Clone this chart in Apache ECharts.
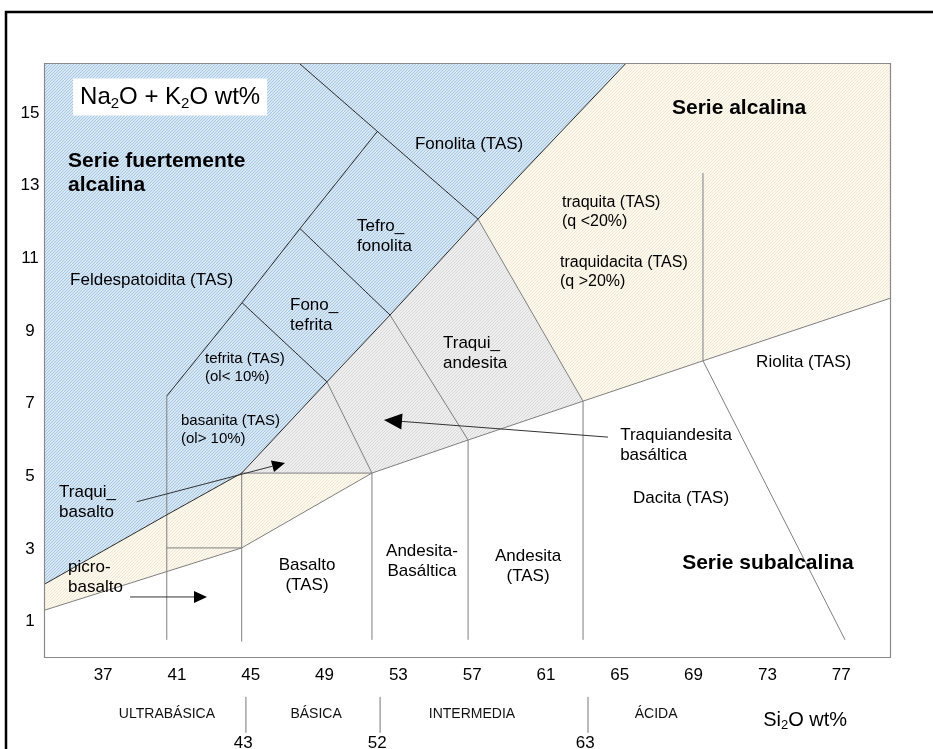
<!DOCTYPE html>
<html><head><meta charset="utf-8">
<script src="https://cdn.jsdelivr.net/npm/echarts@6/dist/echarts.min.js"></script>
<style>html,body{margin:0;padding:0;background:#fff}#c{width:933px;height:749px}</style>
</head><body><div id="c"></div>
<script>
// ---------- axes ----------
const xTicks = [37, 41, 45, 49, 53, 57, 61, 65, 69, 73, 77];
const yTicks = [1, 3, 5, 7, 9, 11, 13, 15];
const xRange = [33.85, 79.7];
const yRange = [0, 16.35];

// ---------- filled fields (SiO2, Na2O+K2O) ----------
const blueRegion = [[33.85,16.35],[65.3,16.35],[57.32,12.08],[52.55,9.44],[49.13,7.6],[44.51,5.09],[40.45,3.94],[33.85,2.04]];
const creamLeftRegion = [[33.85,2.04],[40.45,3.94],[44.51,5.09],[51.57,5.09],[44.51,3.03],[33.85,1.32]];
const grayRegion = [[44.51,5.09],[49.13,7.6],[52.55,9.44],[57.32,12.08],[63.01,7.07],[56.78,6.0],[51.57,5.09]];
const creamRightRegion = [[57.32,12.08],[65.3,16.35],[79.7,16.35],[79.7,9.91],[69.51,8.18],[63.01,7.07]];

// ---------- boundary lines ----------
const darkLines = [
  [[65.3,16.35],[57.32,12.08],[52.55,9.44],[49.13,7.6],[44.51,5.09],[40.45,3.94],[33.85,2.04]],
  [[47.67,16.35],[57.32,12.08]],
  [[40.45,7.21],[44.53,9.78],[47.67,11.82],[51.84,14.48]],
  [[44.53,9.78],[49.13,7.6]],
  [[47.67,11.82],[52.55,9.44]]
];
const grayLines = [
  [[49.13,7.6],[51.57,5.09]],
  [[52.55,9.44],[56.78,6.0]],
  [[57.32,12.08],[63.01,7.07]],
  [[33.85,1.32],[44.51,3.03],[51.57,5.09],[56.78,6.0],[63.01,7.07],[69.51,8.18],[79.7,9.91]],
  [[44.51,5.09],[51.57,5.09]],
  [[40.45,3.03],[44.51,3.03]],
  [[40.45,7.21],[40.45,0.5]],
  [[44.51,5.09],[44.51,0.45]],
  [[51.57,5.09],[51.57,0.5]],
  [[56.78,6.0],[56.78,0.5]],
  [[63.01,7.07],[63.01,0.5]],
  [[69.51,13.35],[69.51,8.18]],
  [[69.51,8.18],[77.21,0.5]]
];

// ---------- arrows (from, to) ----------
const arrows = [
  [[38.82,4.30],[46.86,5.37]],
  [[38.46,1.68],[42.63,1.68]],
  [[64.36,6.08],[52.22,6.55]]
];

// ---------- field labels ----------
const labelTexts = ['Serie fuertemente\nalcalina','Feldespatoidita (TAS)','Fonolita (TAS)','Tefro_\nfonolita','Fono_\ntefrita',
  'tefrita (TAS)\n(ol< 10%)','basanita (TAS)\n(ol> 10%)','Traqui_\nbasalto','picro-\nbasalto','Basalto\n(TAS)',
  'Andesita-\nBasáltica','Andesita\n(TAS)','Traqui_\nandesita','traquita (TAS)\n(q <20%)','traquidacita (TAS)\n(q >20%)',
  'Serie alcalina','Riolita (TAS)','Traquiandesita\nbasáltica','Dacita (TAS)','Serie subalcalina'];
const labelX = [35.10,35.21,53.90,50.76,47.13,42.52,41.22,34.61,35.10,48.05,54.28,60.03,55.42,61.87,61.76,67.83,72.39,65.02,65.72,68.38];
const labelY = [13.35,10.40,14.15,11.62,9.44,7.98,6.29,4.29,2.22,2.28,2.67,2.52,8.40,12.26,10.61,15.14,8.15,5.86,4.40,2.61];

// ---------- silica classes under the axis ----------
const classNames = ['ULTRABÁSICA','BÁSICA','INTERMEDIA','ÁCIDA'];
const classX = [40.46,48.54,56.99,66.97];
const classLimits = ['43','52','63'];
const classLimitX = [44.74,52.01,63.28];

// ---------- styles ----------
const FONT = '"Liberation Sans", Arial, Helvetica, sans-serif';
const labelKind = ['bold','reg','reg','reg','reg','small','small','reg','reg','reg','reg','reg','reg','mid','mid','bold','reg','reg','reg','bold'];
const labelAlign = ['left','left','left','left','left','left','left','left','left','center','center','center','left','left','left','left','left','left','left','left'];
const kinds = {
  bold: {fontSize:21, fontWeight:'bold', lineHeight:24},
  reg: {fontSize:17, fontWeight:'normal', lineHeight:20},
  small: {fontSize:15, fontWeight:'normal', lineHeight:18},
  mid: {fontSize:16, fontWeight:'normal', lineHeight:19}
};

function makePattern(bg, stripe) {
  const c = document.createElement('canvas');
  c.width = 3; c.height = 3;
  const g = c.getContext('2d');
  g.fillStyle = bg; g.fillRect(0,0,3,3);
  g.fillStyle = stripe;
  g.fillRect(0,2,1,1); g.fillRect(1,1,1,1); g.fillRect(2,0,1,1);
  return {image: c, repeat: 'repeat'};
}
const regions = [blueRegion, creamLeftRegion, grayRegion, creamRightRegion];
const regionFill = [
  makePattern('#d8e7f4', '#a7c7e3'),
  makePattern('#fdf9ef', '#f0e8d3'),
  makePattern('#efefef', '#d9d9d9'),
  makePattern('#fdf9ef', '#f0e8d3')
];

const mctx = document.createElement('canvas').getContext('2d');
function measure(t, size) { mctx.font = size + 'px ' + FONT; return mctx.measureText(t).width; }
// rich text with subscripts drawn as positioned tokens
function subText(tokens, px, py, align, bg) {
  let w = 0;
  tokens.forEach(tk => { tk.w = measure(tk.t, tk.s); w += tk.w; });
  let x = align === 'center' ? px - w / 2 : px;
  const children = [];
  if (bg) children.push({type:'rect', shape:{x: px - bg[0]/2, y: py - bg[1]/2, width: bg[0], height: bg[1]}, style:{fill:'#fff'}});
  tokens.forEach(tk => {
    children.push({type:'text', x: x, y: py + (tk.dy || 0),
      style:{text: tk.t, fontSize: tk.s, fontFamily: FONT, fill:'#000', align:'left', verticalAlign:'middle'}});
    x += tk.w;
  });
  return {type:'group', children};
}

const chart = echarts.init(document.getElementById('c'), null, {renderer:'canvas'});
const idx = n => Array.from({length:n}, (_, i) => [i]);

chart.setOption({
  animation: false,
  textStyle: {fontFamily: FONT},
  graphic: [{type:'rect', shape:{x:6, y:12, width:960, height:780}, style:{fill:'none', stroke:'#000', lineWidth:2.5}, z:100}],
  grid: {left:45, right:42, top:64, bottom:91, show:false},
  xAxis: {type:'value', min:xRange[0], max:xRange[1],
    axisLine:{show:false}, axisTick:{show:false}, splitLine:{show:false},
    axisLabel:{customValues:xTicks, fontSize:17, color:'#000', margin:9, fontFamily:FONT}},
  yAxis: {type:'value', min:yRange[0], max:yRange[1],
    axisLine:{show:false}, axisTick:{show:false}, splitLine:{show:false},
    axisLabel:{customValues:yTicks, fontSize:17, color:'#000', margin:15, align:'center', fontFamily:FONT}},
  series: [
    {type:'custom', name:'campos', data: idx(regions.length), z:1, silent:true,
      renderItem(params, api) {
        const pts = regions[params.dataIndex].map(p => api.coord(p));
        return {type:'polygon', shape:{points:pts}, style:{fill: regionFill[params.dataIndex], stroke:'none'}};
      }},
    {type:'custom', name:'limites grises', data: idx(grayLines.length), z:2, silent:true,
      renderItem(params, api) {
        const pts = grayLines[params.dataIndex].map(p => api.coord(p));
        return {type:'polyline', shape:{points:pts}, style:{stroke:'#7f7f7f', lineWidth:1, fill:'none'}};
      }},
    {type:'custom', name:'limites', data: idx(darkLines.length), z:3, silent:true,
      renderItem(params, api) {
        const pts = darkLines[params.dataIndex].map(p => api.coord(p));
        return {type:'polyline', shape:{points:pts}, style:{stroke:'#2a2a2a', lineWidth:1, fill:'none'}};
      }},
    {type:'custom', name:'flechas', data: idx(arrows.length), z:4, silent:true,
      renderItem(params, api) {
        const a = arrows[params.dataIndex];
        const p0 = api.coord(a[0]), p1 = api.coord(a[1]);
        const dx = p1[0]-p0[0], dy = p1[1]-p0[1], len = Math.hypot(dx, dy);
        const ux = dx/len, uy = dy/len;
        const L = params.dataIndex === 2 ? 18 : 13, W = params.dataIndex === 2 ? 8 : 6;
        const bx = p1[0]-ux*L, by = p1[1]-uy*L;
        return {type:'group', children:[
          {type:'line', shape:{x1:p0[0], y1:p0[1], x2:bx, y2:by}, style:{stroke:'#333', lineWidth:1}},
          {type:'polygon', shape:{points:[[p1[0],p1[1]],[bx-uy*W, by+ux*W],[bx+uy*W, by-ux*W]]}, style:{fill:'#000'}}
        ]};
      }},
    {type:'custom', name:'marco', data: [[0]], z:5, silent:true,
      renderItem(params, api) {
        const a = api.coord([xRange[0], yRange[1]]), b = api.coord([xRange[1], yRange[0]]);
        return {type:'rect', shape:{x:a[0]-0.5, y:a[1]-0.5, width:b[0]-a[0], height:b[1]-a[1]}, style:{fill:'none', stroke:'#8a8a8a', lineWidth:1.2}};
      }},
    {type:'custom', name:'rotulos', data: idx(labelTexts.length), z:6, silent:true,
      renderItem(params, api) {
        const i = params.dataIndex, k = kinds[labelKind[i]];
        const p = api.coord([labelX[i], labelY[i]]);
        return {type:'text', x:p[0], y:p[1], style:{text:labelTexts[i], fontSize:k.fontSize, fontWeight:k.fontWeight,
          lineHeight:k.lineHeight, fontFamily:FONT, fill:'#000', align:labelAlign[i], verticalAlign:'middle'}};
      }},
    {type:'custom', name:'titulos', data: [[0],[1]], z:7, silent:true, clip:false,
      renderItem(params, api) {
        if (params.dataIndex === 0) {
          const p = api.coord([40.63, 15.40]);
          return subText([{t:'Na',s:24},{t:'2',s:15,dy:7},{t:'O + K',s:24},{t:'2',s:15,dy:7},{t:'O wt%',s:24}], p[0], p[1]-1.5, 'center', [194, 37]);
        }
        const p = api.coord([72.77, -1.73]);
        return subText([{t:'Si',s:20},{t:'2',s:13,dy:5},{t:'O wt%',s:20}], p[0], p[1], 'left');
      }},
    {type:'custom', name:'clases', data: idx(classNames.length + classLimits.length), z:7, silent:true, clip:false,
      renderItem(params, api) {
        const i = params.dataIndex;
        if (i < classNames.length) {
          const p = api.coord([classX[i], -1.54]);
          return {type:'text', x:p[0], y:p[1], style:{text:classNames[i], fontSize:14, fontFamily:FONT, fill:'#111', align:'center', verticalAlign:'middle'}};
        }
        const j = i - classNames.length;
        const t = api.coord([classLimitX[j], -1.07]), b = api.coord([classLimitX[j], -2.06]);
        const l = api.coord([classLimitX[j] - 0.15, -2.36]);
        return {type:'group', children:[
          {type:'line', shape:{x1:t[0], y1:t[1], x2:b[0], y2:b[1]}, style:{stroke:'#777', lineWidth:1}},
          {type:'text', x:l[0], y:l[1], style:{text:classLimits[j], fontSize:17, fontFamily:FONT, fill:'#000', align:'center', verticalAlign:'middle'}}
        ]};
      }}
  ]
});
</script></body></html>
